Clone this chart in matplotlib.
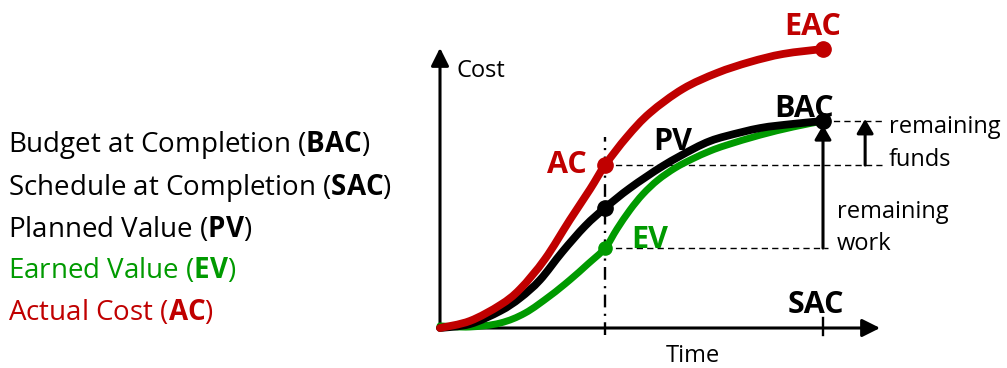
import matplotlib
matplotlib.use("Agg")
import matplotlib.pyplot as plt
from matplotlib.path import Path
from matplotlib.patches import PathPatch

plt.rcParams['font.family'] = ['Open Sans', 'DejaVu Sans']
plt.rcParams['mathtext.fontset'] = 'custom'
plt.rcParams['mathtext.rm'] = 'Open Sans'
plt.rcParams['mathtext.bf'] = 'Open Sans:bold'

RED = '#C00000'
GREEN = '#009A00'
BLACK = '#000000'

# time in % of SAC, cost in % of BAC
ac_time = [0, 7.8, 15.7, 20.9, 27.4, 33.9, 39.2, 43.1, 48.8, 54.8, 63.4, 72.3, 80.9, 89.6, 100]
ac_cost = [0, 3.4, 11.1, 18.8, 33.3, 52.2, 67.1, 78.7, 92.3, 103.9, 115.5, 123.2, 128.5, 132.4, 134.8]

pv_time = [0, 7.8, 15.7, 20.9, 26.1, 31.9, 37.9, 43.1, 49.6, 58.2, 66.1, 70.5, 74.9, 83.6, 92.2, 100]
pv_cost = [0, 1.9, 8.2, 14.5, 23.2, 36.7, 49.3, 58.0, 67.6, 78.3, 86.5, 90.3, 92.8, 96.6, 98.6, 100]

ev_time = [0, 7.8, 15.7, 22.2, 28.7, 33.9, 38.6, 43.1, 46.2, 49.6, 53.0, 56.9, 61.4, 65.8, 70.5, 74.9, 83.6, 92.2, 100]
ev_cost = [1.0, 0.5, 2.4, 7.2, 15.5, 23.2, 30.9, 38.6, 47.8, 57.0, 64.7, 71.5, 77.3, 81.6, 85.5, 88.4, 93.2, 97.1, 100]

status_time = 43.1
sac_time = 100
ac_now = 78.7
pv_now = 58.0
ev_now = 38.6
bac = 100
eac = 134.8

legend_lines = [
    ("Budget at Completion (", "BAC", ")", BLACK),
    ("Schedule at Completion (", "SAC", ")", BLACK),
    ("Planned Value (", "PV", ")", BLACK),
    ("Earned Value (", "EV", ")", GREEN),
    ("Actual Cost (", "AC", ")", RED),
]

W, H = 1007, 368
fig = plt.figure(figsize=(W / 100, H / 100), dpi=100)
ax = fig.add_axes([0, 0, 1, 1])
ax.set_xlim(-440 / 3.83, (W - 440) / 3.83)
ax.set_ylim((328 - H) / 2.07, 328 / 2.07)
ax.axis('off')


def fx(px):
    return px / W


def fy(py):
    return 1 - py / H


def smooth_curve(xs, ys, color, lw, z):
    # Catmull-Rom spline through the read points, drawn as cubic Bezier path
    pts = list(zip(xs, ys))
    n = len(pts)
    verts = [pts[0]]
    codes = [Path.MOVETO]
    for i in range(n - 1):
        p0 = pts[i - 1] if i > 0 else pts[i]
        p1 = pts[i]
        p2 = pts[i + 1]
        p3 = pts[i + 2] if i + 2 < n else pts[i + 1]
        c1 = (p1[0] + (p2[0] - p0[0]) / 6, p1[1] + (p2[1] - p0[1]) / 6)
        c2 = (p2[0] - (p3[0] - p1[0]) / 6, p2[1] - (p3[1] - p1[1]) / 6)
        verts += [c1, c2, p2]
        codes += [Path.CURVE4] * 3
    patch = PathPatch(Path(verts, codes), fill=False, edgecolor=color, lw=lw,
                      capstyle='round', joinstyle='round', zorder=z)
    ax.add_patch(patch)


# axes with arrows
arrow_kw = dict(arrowstyle='-|>,head_length=1.08,head_width=0.54', lw=2.2, color='k',
                shrinkA=0, shrinkB=0, mutation_scale=10)
ax.annotate('', xy=(114.9, 0), xytext=(-0.6, 0), arrowprops=arrow_kw, zorder=3)
ax.annotate('', xy=(0, 135.3), xytext=(0, -0.6), arrowprops=arrow_kw, zorder=3)

# status line (dash-dot) and SAC tick
ax.plot([status_time, status_time], [-3.4, 92.5], color='k', lw=1.7,
        dashes=(5.4, 2.7, 0.9, 2.7), zorder=2)
ax.plot([sac_time, sac_time], [-3.4, 4.8], color='k', lw=1.7, zorder=2)

# dashed guide lines
dash_kw = dict(color='k', lw=1.0, dashes=(4.5, 3), zorder=1)
ax.plot([status_time, 115.4], [ac_now, ac_now], **dash_kw)
ax.plot([sac_time, 115.4], [bac, bac], **dash_kw)
ax.plot([status_time, 101.3], [ev_now, ev_now], **dash_kw)

# curves
smooth_curve(ev_time, ev_cost, GREEN, 5.0, 4)
smooth_curve(pv_time, pv_cost, BLACK, 5.6, 5)
smooth_curve(ac_time, ac_cost, RED, 5.6, 6)

# markers
ax.plot([status_time], [ac_now], 'o', color=RED, ms=11, zorder=7)
ax.plot([status_time], [pv_now], 'o', color=BLACK, ms=11, zorder=7)
ax.plot([status_time], [ev_now], 'o', color=GREEN, ms=9.5, zorder=7)
ax.plot([sac_time], [eac], 'o', color=RED, ms=11, zorder=7)
ax.plot([sac_time], [bac], 'o', color=BLACK, ms=11, zorder=7)

# remaining work / funds arrows
rem_kw = dict(arrowstyle='-|>,head_length=0.86,head_width=0.5', lw=2.2, color='k',
              shrinkA=0, shrinkB=0, mutation_scale=10)
ax.annotate('', xy=(sac_time, 98.0), xytext=(sac_time, ev_now), arrowprops=rem_kw, zorder=8)
ax.annotate('', xy=(111.0, 101.0), xytext=(111.0, ac_now), arrowprops=rem_kw, zorder=8)

# labels
bold_size = 22
lab = [("EAC", 813, 35, RED), ("BAC", 804, 117, BLACK), ("PV", 673, 150, BLACK),
       ("AC", 567, 173, RED), ("EV", 650, 248, GREEN), ("SAC", 816, 313, BLACK)]
for s, x, y, c in lab:
    fig.text(fx(x), fy(y), s, ha='center', va='baseline', fontsize=bold_size,
             fontweight='bold', color=c, zorder=9)

small = 17
fig.text(fx(457), fy(77), "Cost", ha='left', va='baseline', fontsize=small)
fig.text(fx(693), fy(362), "Time", ha='center', va='baseline', fontsize=small)
fig.text(fx(889), fy(133), "remaining", ha='left', va='baseline', fontsize=small)
fig.text(fx(889), fy(166), "funds", ha='left', va='baseline', fontsize=small)
fig.text(fx(837), fy(218), "remaining", ha='left', va='baseline', fontsize=small)
fig.text(fx(837), fy(250), "work", ha='left', va='baseline', fontsize=small)

# legend text
baselines = [152, 195, 237, 278, 320]
for (pre, b, post, c), y in zip(legend_lines, baselines):
    fig.text(fx(8), fy(y), pre + r"$\mathbf{" + b + "}$" + post, ha='left', va='baseline',
             fontsize=20, color=c)

fig.savefig("out.png", dpi=100)
